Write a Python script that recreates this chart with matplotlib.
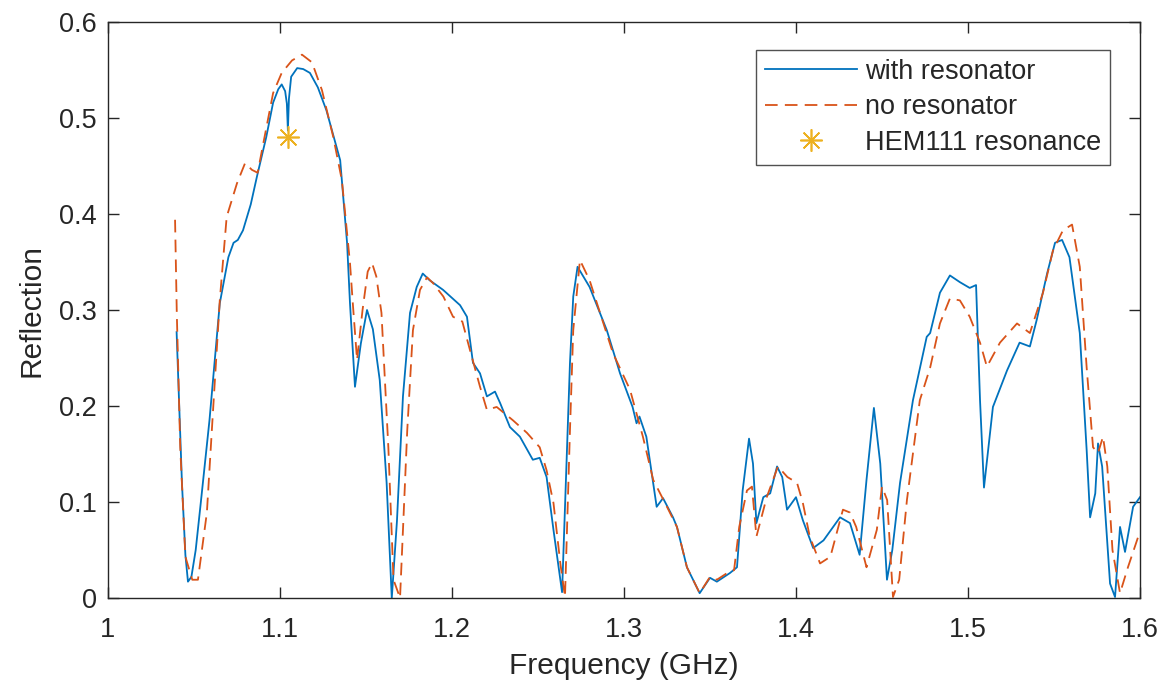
import matplotlib.pyplot as plt

plt.rcParams['font.family'] = ['Liberation Sans', 'DejaVu Sans']

# with resonator
f_res = [1.0399, 1.0430, 1.0450, 1.0465, 1.0485, 1.0510, 1.0540, 1.0590, 1.0650, 1.0700,
         1.0730, 1.0755, 1.0785, 1.0830, 1.0866, 1.0920, 1.0960, 1.0990, 1.1010, 1.1030,
         1.1040, 1.1046, 1.1052, 1.1065, 1.1100, 1.1135, 1.1174, 1.1220, 1.1270, 1.1350,
         1.1390, 1.1407, 1.1436, 1.1470, 1.1506, 1.1540, 1.1580, 1.1620, 1.1650, 1.1680,
         1.1715, 1.1756, 1.1795, 1.1830, 1.1870, 1.1948, 1.2047, 1.2087, 1.2122, 1.2163,
         1.2203, 1.2250, 1.2280, 1.2337, 1.2395, 1.2470, 1.2510, 1.2550, 1.2590, 1.2640,
         1.2686, 1.2705, 1.2730, 1.2800, 1.2900, 1.2977, 1.3050, 1.3073, 1.3090, 1.3130,
         1.3190, 1.3227, 1.3285, 1.3308, 1.3366, 1.3440, 1.3500, 1.3540, 1.3616, 1.3657,
         1.3690, 1.3727, 1.3750, 1.3770, 1.3810, 1.3850, 1.3890, 1.3920, 1.3948, 1.4000,
         1.4040, 1.4100, 1.4160, 1.4256, 1.4314, 1.4370, 1.4410, 1.4453, 1.4490, 1.4529,
         1.4560, 1.4605, 1.4680, 1.4760, 1.4780, 1.4837, 1.4895, 1.4953, 1.5010, 1.5047,
         1.5070, 1.5093, 1.5145, 1.5227, 1.5300, 1.5360, 1.5400, 1.5460, 1.5506, 1.5547,
         1.5590, 1.5650, 1.5690, 1.5710, 1.5740, 1.5756, 1.5780, 1.5826, 1.5855, 1.5884,
         1.5913, 1.5960, 1.6000]
r_res = [0.277, 0.120, 0.045, 0.017, 0.022, 0.050, 0.100, 0.185, 0.307, 0.355,
         0.370, 0.373, 0.383, 0.410, 0.439, 0.480, 0.516, 0.530, 0.535, 0.528,
         0.515, 0.487, 0.520, 0.543, 0.552, 0.551, 0.547, 0.532, 0.508, 0.456,
         0.370, 0.307, 0.220, 0.265, 0.300, 0.280, 0.227, 0.120, 0.000, 0.080,
         0.210, 0.297, 0.324, 0.338, 0.331, 0.321, 0.305, 0.293, 0.245, 0.234,
         0.210, 0.215, 0.203, 0.178, 0.168, 0.144, 0.146, 0.126, 0.071, 0.006,
         0.245, 0.314, 0.345, 0.324, 0.279, 0.234, 0.199, 0.182, 0.189, 0.168,
         0.095, 0.104, 0.084, 0.074, 0.032, 0.005, 0.021, 0.017, 0.026, 0.032,
         0.112, 0.166, 0.140, 0.078, 0.105, 0.109, 0.137, 0.126, 0.092, 0.105,
         0.081, 0.052, 0.060, 0.084, 0.078, 0.045, 0.123, 0.198, 0.140, 0.019,
         0.050, 0.120, 0.206, 0.272, 0.276, 0.318, 0.336, 0.329, 0.323, 0.326,
         0.206, 0.115, 0.199, 0.237, 0.266, 0.262, 0.290, 0.338, 0.370, 0.373,
         0.355, 0.276, 0.154, 0.084, 0.109, 0.161, 0.137, 0.015, 0.001, 0.074,
         0.048, 0.095, 0.105]

# no resonator
f_nores = [1.0390, 1.0400, 1.0420, 1.0450, 1.0490, 1.0523, 1.0575, 1.0610, 1.0650, 1.0690,
           1.0750, 1.0797, 1.0837, 1.0870, 1.0910, 1.0960, 1.1010, 1.1070, 1.1128, 1.1186,
           1.1244, 1.1310, 1.1360, 1.1407, 1.1425, 1.1448, 1.1480, 1.1510, 1.1535, 1.1560,
           1.1590, 1.1630, 1.1660, 1.1698, 1.1740, 1.1773, 1.1814, 1.1855, 1.1890, 1.1950,
           1.2006, 1.2060, 1.2105, 1.2163, 1.2203, 1.2260, 1.2355, 1.2436, 1.2510, 1.2550,
           1.2590, 1.2630, 1.2657, 1.2686, 1.2705, 1.2744, 1.2800, 1.2936, 1.3035, 1.3110,
           1.3170, 1.3250, 1.3308, 1.3366, 1.3440, 1.3500, 1.3540, 1.3600, 1.3640, 1.3670,
           1.3715, 1.3744, 1.3770, 1.3830, 1.3895, 1.3950, 1.4006, 1.4040, 1.4080, 1.4140,
           1.4200, 1.4273, 1.4314, 1.4350, 1.4410, 1.4470, 1.4500, 1.4530, 1.4564, 1.4600,
           1.4645, 1.4720, 1.4780, 1.4837, 1.4895, 1.4953, 1.5010, 1.5070, 1.5110, 1.5186,
           1.5285, 1.5360, 1.5436, 1.5494, 1.5552, 1.5605, 1.5650, 1.5690, 1.5727, 1.5756,
           1.5785, 1.5810, 1.5840, 1.5884, 1.5930, 1.5990]
r_nores = [0.394, 0.297, 0.157, 0.043, 0.019, 0.019, 0.089, 0.193, 0.310, 0.397,
           0.432, 0.453, 0.446, 0.443, 0.480, 0.526, 0.547, 0.560, 0.566, 0.558,
           0.529, 0.480, 0.435, 0.349, 0.303, 0.248, 0.300, 0.340, 0.349, 0.335,
           0.297, 0.157, 0.019, 0.000, 0.175, 0.279, 0.321, 0.334, 0.328, 0.314,
           0.293, 0.288, 0.258, 0.220, 0.196, 0.199, 0.185, 0.172, 0.157, 0.133,
           0.099, 0.036, 0.001, 0.175, 0.279, 0.352, 0.331, 0.255, 0.217, 0.168,
           0.123, 0.095, 0.074, 0.032, 0.005, 0.022, 0.019, 0.026, 0.029, 0.074,
           0.112, 0.116, 0.064, 0.105, 0.137, 0.126, 0.120, 0.099, 0.064, 0.036,
           0.043, 0.092, 0.089, 0.074, 0.032, 0.071, 0.116, 0.102, 0.001, 0.019,
           0.102, 0.206, 0.240, 0.286, 0.312, 0.310, 0.293, 0.266, 0.241, 0.266,
           0.286, 0.276, 0.318, 0.362, 0.383, 0.389, 0.345, 0.240, 0.157, 0.151,
           0.168, 0.137, 0.050, 0.005, 0.032, 0.064]

# HEM111 marker
f_hem = [1.1046]
r_hem = [0.480]

fig = plt.figure(figsize=(11.75, 6.95), dpi=100)
ax = fig.add_axes([0.0919, 0.1396, 0.8783, 0.8287])

ax.plot(f_res, r_res, color='#0072BD', linewidth=1.3, label='with resonator')
ax.plot(f_nores, r_nores, color='#D95319', linewidth=1.3, linestyle=(0, (7, 4)),
        label='no resonator')
ax.plot(f_hem, r_hem, linestyle='none', marker=(8, 2, 0), color='#EDB120',
        markersize=16, markeredgewidth=1.2, label='HEM111 resonance')

ax.set_xlim(1, 1.6)
ax.set_ylim(0, 0.6)
ax.set_xticks([1, 1.1, 1.2, 1.3, 1.4, 1.5, 1.6])
ax.set_xticklabels(['1', '1.1', '1.2', '1.3', '1.4', '1.5', '1.6'])
ax.set_yticks([0, 0.1, 0.2, 0.3, 0.4, 0.5, 0.6])
ax.set_yticklabels(['0', '0.1', '0.2', '0.3', '0.4', '0.5', '0.6'])

ax.tick_params(direction='in', length=8, width=1, colors='#262626',
               labelsize=19.5, top=True, right=True)
ax.tick_params(axis='x', pad=14)
ax.tick_params(axis='y', pad=8)
for s in ax.spines.values():
    s.set_color('#262626')
    s.set_linewidth(1)

ax.set_xlabel('Frequency (GHz)', fontsize=21.5, color='#262626', labelpad=6)
ax.set_ylabel('Reflection', fontsize=21.5, color='#262626', labelpad=10)

leg = ax.legend(loc='upper right', bbox_to_anchor=(0.971, 0.951), borderaxespad=0,
                fontsize=19.5, frameon=True, fancybox=False, edgecolor='#262626',
                handlelength=3.4, handletextpad=0.3, labelspacing=0.35,
                borderpad=0.32)
leg.get_frame().set_linewidth(1)
for t in leg.get_texts():
    t.set_color('#262626')

fig.savefig('out.png', dpi=100, facecolor='white')
